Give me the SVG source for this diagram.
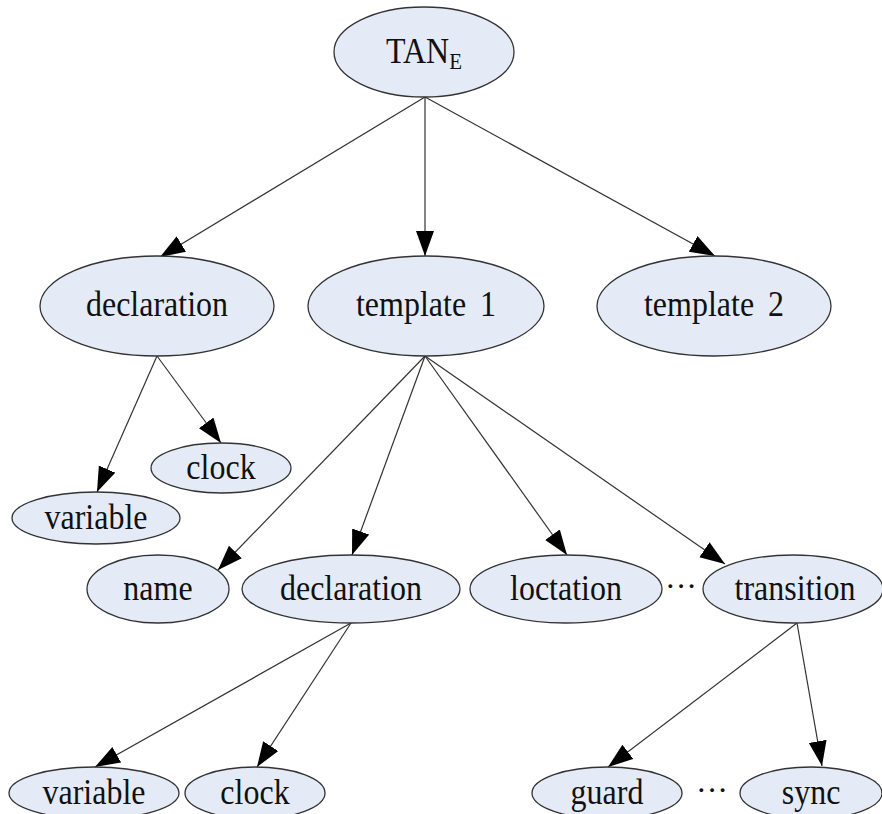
<svg xmlns="http://www.w3.org/2000/svg" width="882" height="814" viewBox="0 0 882 814">
  <defs>
    <marker id="arrow" markerUnits="userSpaceOnUse" markerWidth="28" markerHeight="20" refX="25" refY="9" orient="auto">
      <path d="M0,0 L25,9 L0,18 Z" fill="#000"/>
    </marker>
    <style>
      .node ellipse { fill: #e5ebf6; stroke: #333; stroke-width: 1.3; }
      .node text, .dots { font-family: "Liberation Serif", "DejaVu Serif", serif; font-size: 32px; fill: #111; text-anchor: middle; }
      .edges line { stroke: #333; stroke-width: 1.2; marker-end: url(#arrow); }
    </style>
  </defs>
  <rect width="882" height="814" fill="#fff"/>

  <g class="edges">
    <line x1="425" y1="97" x2="160" y2="257"/>
    <line x1="425" y1="97" x2="425" y2="256"/>
    <line x1="425" y1="97" x2="715" y2="256"/>
    <line x1="157" y1="356" x2="97" y2="492"/>
    <line x1="157" y1="356" x2="221" y2="443"/>
    <line x1="425" y1="356" x2="218" y2="570"/>
    <line x1="425" y1="356" x2="352" y2="555"/>
    <line x1="425" y1="356" x2="567" y2="555"/>
    <line x1="425" y1="356" x2="725" y2="564"/>
    <line x1="351" y1="623" x2="95" y2="767"/>
    <line x1="351" y1="623" x2="257" y2="767"/>
    <line x1="797" y1="623" x2="608" y2="767"/>
    <line x1="797" y1="623" x2="822" y2="766"/>
  </g>

  <g id="root" class="node">
    <ellipse cx="424" cy="52" rx="90" ry="45"/>
    <text transform="translate(424,63) scale(1,1.12)">TAN<tspan font-size="21" dy="5">E</tspan></text>
  </g>

  <g id="declaration" class="node">
    <ellipse cx="157" cy="306" rx="117" ry="50"/>
    <text transform="translate(157,316) scale(1,1.12)">declaration</text>
  </g>
  <g id="template1" class="node">
    <ellipse cx="426" cy="306" rx="118" ry="50"/>
    <text transform="translate(426,316) scale(1,1.12)">template<tspan dx="14">1</tspan></text>
  </g>
  <g id="template2" class="node">
    <ellipse cx="714" cy="306" rx="117" ry="50"/>
    <text transform="translate(714,316) scale(1,1.12)">template<tspan dx="14">2</tspan></text>
  </g>

  <g id="clock1" class="node">
    <ellipse cx="221" cy="468" rx="70" ry="25"/>
    <text transform="translate(221,479) scale(1,1.12)">clock</text>
  </g>
  <g id="variable1" class="node">
    <ellipse cx="96" cy="518" rx="84" ry="26"/>
    <text transform="translate(96,529) scale(1,1.12)">variable</text>
  </g>

  <g id="name" class="node">
    <ellipse cx="158" cy="589" rx="71" ry="34"/>
    <text transform="translate(158,600) scale(1,1.12)">name</text>
  </g>
  <g id="declaration2" class="node">
    <ellipse cx="351" cy="589" rx="109" ry="34"/>
    <text transform="translate(351,600) scale(1,1.12)">declaration</text>
  </g>
  <g id="loctation" class="node">
    <ellipse cx="566" cy="589" rx="96" ry="34"/>
    <text transform="translate(566,600) scale(1,1.12)">loctation</text>
  </g>
  <text class="dots" x="681" y="597">···</text>
  <g id="transition" class="node">
    <ellipse cx="793" cy="589" rx="90" ry="34"/>
    <text transform="translate(795,600) scale(1,1.12)">transition</text>
  </g>

  <g id="variable2" class="node">
    <ellipse cx="94" cy="793" rx="85" ry="26"/>
    <text transform="translate(94,804) scale(1,1.12)">variable</text>
  </g>
  <g id="clock2" class="node">
    <ellipse cx="255" cy="793" rx="70" ry="26"/>
    <text transform="translate(255,804) scale(1,1.12)">clock</text>
  </g>
  <g id="guard" class="node">
    <ellipse cx="607" cy="793" rx="75" ry="26"/>
    <text transform="translate(607,804) scale(1,1.12)">guard</text>
  </g>
  <text class="dots" x="712" y="801">···</text>
  <g id="sync" class="node">
    <ellipse cx="811" cy="793" rx="71" ry="26"/>
    <text transform="translate(811,804) scale(1,1.12)">sync</text>
  </g>
</svg>
